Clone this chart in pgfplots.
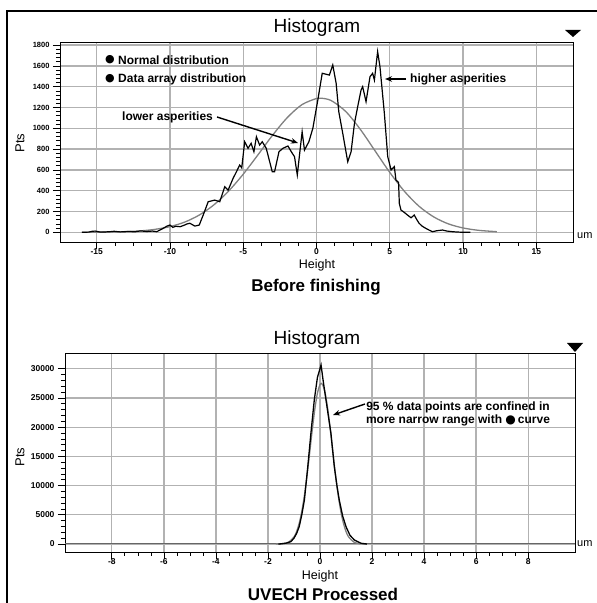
\documentclass[border=0pt]{standalone}
\usepackage{fontspec}
\setmainfont{Liberation Sans}
\newfontfamily\dejavu{DejaVu Sans}
\usepackage{pgfplots}
\pgfplotsset{compat=1.18}
\usetikzlibrary{arrows.meta}

\pgfplotsset{histo/.style={
  scale only axis,
  axis line style={black, line width=0.9bp},
  xmajorgrids=true, ymajorgrids=true,
  grid style={draw=gray!60, line width=1.3bp},
  tick align=outside, tick pos=left,
  major tick length=7bp, minor tick length=4bp,
  tick style={black, line width=0.7bp},
  minor x tick num=3, minor y tick num=4,
  scaled y ticks=false,
  /pgf/number format/assume math mode=true,
  /pgf/number format/1000 sep={},
  x tick label style={font=\bfseries\fontsize{8.5bp}{9bp}\selectfont, yshift=4bp},
  y tick label style={font=\bfseries\fontsize{7.5bp}{9bp}\selectfont},
}}

\begin{document}
\begin{tikzpicture}
\path[use as bounding box] (0,0) rectangle (597bp,603bp);

% ---------------- top panel ----------------
\begin{axis}[histo, at={(60bp,361bp)}, anchor=south west,
  width=513bp, height=200bp,
  xmin=-17.5, xmax=17.5, ymin=-93, ymax=1830,
  xtick={-15,-10,...,15}, ytick={0,200,...,1800}]
% normal distribution (gray)
\addplot[gray, line width=1.3bp, smooth] coordinates {
(-16,0) (-15,1) (-14,3) (-13,7) (-12,14) (-11,29) (-10,55) (-9,98) (-8,166)
(-7,264) (-6,396) (-5,559) (-4,744) (-3,933) (-2,1102) (-1,1227) (0,1287)
(0.3,1290) (1,1267) (2,1161) (3,988) (4,782) (5,576) (6,394) (7,250) (8,148)
(9,81) (10,42) (11,20) (12,9) (12.3,6)};
% data array distribution (black)
\addplot[black, line width=1.2bp] coordinates {
(-16,0) (-15.55,2) (-15.3,10) (-15.1,12) (-14.8,4) (-14.5,3) (-14.1,6) (-13.8,10)
(-13.4,4) (-12.8,8) (-12.4,5) (-12.0,14) (-11.6,8) (-11.2,12) (-10.9,6) (-10.68,22)
(-10.46,38) (-10.2,60) (-10.0,70) (-9.8,48) (-9.6,58) (-9.3,54) (-9.0,70) (-8.85,80)
(-8.64,87) (-8.3,60) (-8.0,70) (-7.73,166) (-7.39,294) (-6.94,310) (-6.6,294)
(-6.26,438) (-6.03,406) (-5.69,519) (-5.46,583) (-5.24,647) (-5.1,620) (-4.9,871)
(-4.67,808) (-4.46,856) (-4.27,775) (-4.1,919) (-3.88,839) (-3.7,871) (-3.43,808)
(-3.02,583) (-2.86,583) (-2.56,775) (-2.29,808) (-1.95,830) (-1.72,775) (-1.5,727)
(-1.31,551) (-1.16,743) (-0.98,967) (-0.82,791) (-0.52,871) (-0.25,1000) (0.09,1272)
(0.39,1529) (0.88,1512) (1.11,1609) (1.34,1433) (1.52,1160) (1.79,952) (2.13,679)
(2.36,775) (2.59,1048) (2.81,1208) (3.04,1368) (3.15,1400) (3.38,1256) (3.65,1496)
(3.83,1529) (3.95,1464) (4.17,1737) (4.33,1593) (4.63,1144) (4.86,727) (5.09,599)
(5.31,631) (5.42,503) (5.6,480) (5.65,279) (5.76,215) (6.0,190) (6.21,166) (6.45,140)
(6.67,166) (6.85,120) (7.0,87) (7.2,60) (7.46,38) (7.7,20) (7.91,6) (8.2,15) (8.59,22)
(8.9,12) (9.27,6) (9.6,3) (10.0,0) (10.5,0)};
\end{axis}

% ---------------- bottom panel ----------------
\begin{axis}[histo, at={(65bp,51bp)}, anchor=south west,
  width=510bp, height=199bp,
  xmin=-9.8, xmax=9.8, ymin=-1370, ymax=32700,
  xtick={-8,-6,...,8}, ytick={0,5000,...,30000},
  y tick label style={font=\bfseries\fontsize{8.5bp}{9bp}\selectfont}]
\addplot[gray!80!black, line width=1.0bp] coordinates {(-9.8,0) (9.8,0)};
\addplot[gray, line width=1.3bp, smooth] coordinates {
(-1.7,5) (-1.6,12) (-1.4,71) (-1.2,328) (-1.0,1208) (-0.9,2129) (-0.8,3547)
(-0.7,5585) (-0.6,8302) (-0.5,11668) (-0.4,15491) (-0.3,19434) (-0.2,23034)
(-0.1,25800) (0,27305) (0.05,27500) (0.1,27305) (0.2,25800) (0.3,23034)
(0.4,19434) (0.5,15491) (0.6,11668) (0.7,8302) (0.8,5585) (0.9,3547)
(1.0,2129) (1.1,1208) (1.3,328) (1.5,71) (1.7,12) (1.8,5)};
\addplot[black, line width=1.3bp] coordinates {
(-1.6,0) (-1.5,30) (-1.3,150) (-1.12,400) (-1.0,1000) (-0.9,1800) (-0.8,2960)
(-0.7,5000) (-0.6,7530) (-0.47,13230) (-0.35,18950) (-0.22,24650) (-0.1,28500)
(0.04,30650) (0.12,28000) (0.23,24650) (0.42,18950) (0.55,13230) (0.65,10000)
(0.74,7530) (0.87,4800) (1.0,2960) (1.15,1500) (1.32,680) (1.58,120) (1.8,0)};
\end{axis}

% ---------------- frame & decorations ----------------
\draw[line width=1.2bp] (7bp,0bp) -- (7bp,592bp) -- (597bp,592bp);
\fill (565bp,573bp) -- (581bp,573bp) -- (573bp,566bp) -- cycle;
\fill (567bp,260bp) -- (583bp,260bp) -- (575bp,251bp) -- cycle;

% titles and labels
\node[font=\fontsize{19bp}{20bp}\selectfont] at (317bp,575bp) {Histogram};
\node[font=\fontsize{19bp}{20bp}\selectfont] at (317bp,263bp) {Histogram};
\node[font=\fontsize{12.5bp}{13bp}\selectfont, inner sep=0] at (317bp,338bp) {Height};
\node[font=\fontsize{12.5bp}{13bp}\selectfont, inner sep=0] at (320bp,27bp) {Height};
\node[font=\bfseries\fontsize{17bp}{18bp}\selectfont, inner sep=0] at (316bp,315.5bp) {Before finishing};
\node[font=\bfseries\fontsize{17bp}{18bp}\selectfont, inner sep=0] at (323bp,8.5bp) {UVECH Processed};
\node[font=\fontsize{13bp}{14bp}\selectfont, rotate=90] at (20bp,460bp) {Pts};
\node[font=\fontsize{13bp}{14bp}\selectfont, rotate=90] at (20bp,146bp) {Pts};
\node[font=\fontsize{11bp}{12bp}\selectfont, anchor=west, inner sep=0] at (577bp,367bp) {um};
\node[font=\fontsize{11bp}{12bp}\selectfont, anchor=west, inner sep=0] at (577bp,59bp) {um};

% legend
\node[font=\dejavu\fontsize{11bp}{12bp}\selectfont] at (110bp,543bp) {●};
\node[font=\dejavu\fontsize{11bp}{12bp}\selectfont] at (110bp,524bp) {●};
\node[font=\bfseries\fontsize{12bp}{13bp}\selectfont, anchor=west, inner sep=0] at (118bp,543bp) {Normal distribution};
\node[font=\bfseries\fontsize{12bp}{13bp}\selectfont, anchor=west, inner sep=0] at (118bp,524bp) {Data array distribution};

% annotations
\node[font=\bfseries\fontsize{12bp}{13bp}\selectfont, anchor=west, inner sep=0] at (122bp,486bp) {lower asperities};
\draw[line width=1.4bp, -{Stealth[length=7bp,width=5.5bp]}] (217bp,486bp) -- (298bp,460bp);
\node[font=\bfseries\fontsize{12bp}{13bp}\selectfont, anchor=west, inner sep=0] at (410bp,524bp) {higher asperities};
\draw[line width=1.4bp, -{Stealth[length=7bp,width=5.5bp]}] (406bp,524bp) -- (385bp,524bp);
\node[font=\bfseries\fontsize{12bp}{13bp}\selectfont, align=center, inner sep=0] at (458bp,189.5bp)
  {95 \% data points are confined in\\more narrow range with {\dejavu ●}\,curve};
\draw[line width=1.4bp, -{Stealth[length=7bp,width=5.5bp]}] (365bp,199bp) -- (333bp,188bp);
\end{tikzpicture}
\end{document}
